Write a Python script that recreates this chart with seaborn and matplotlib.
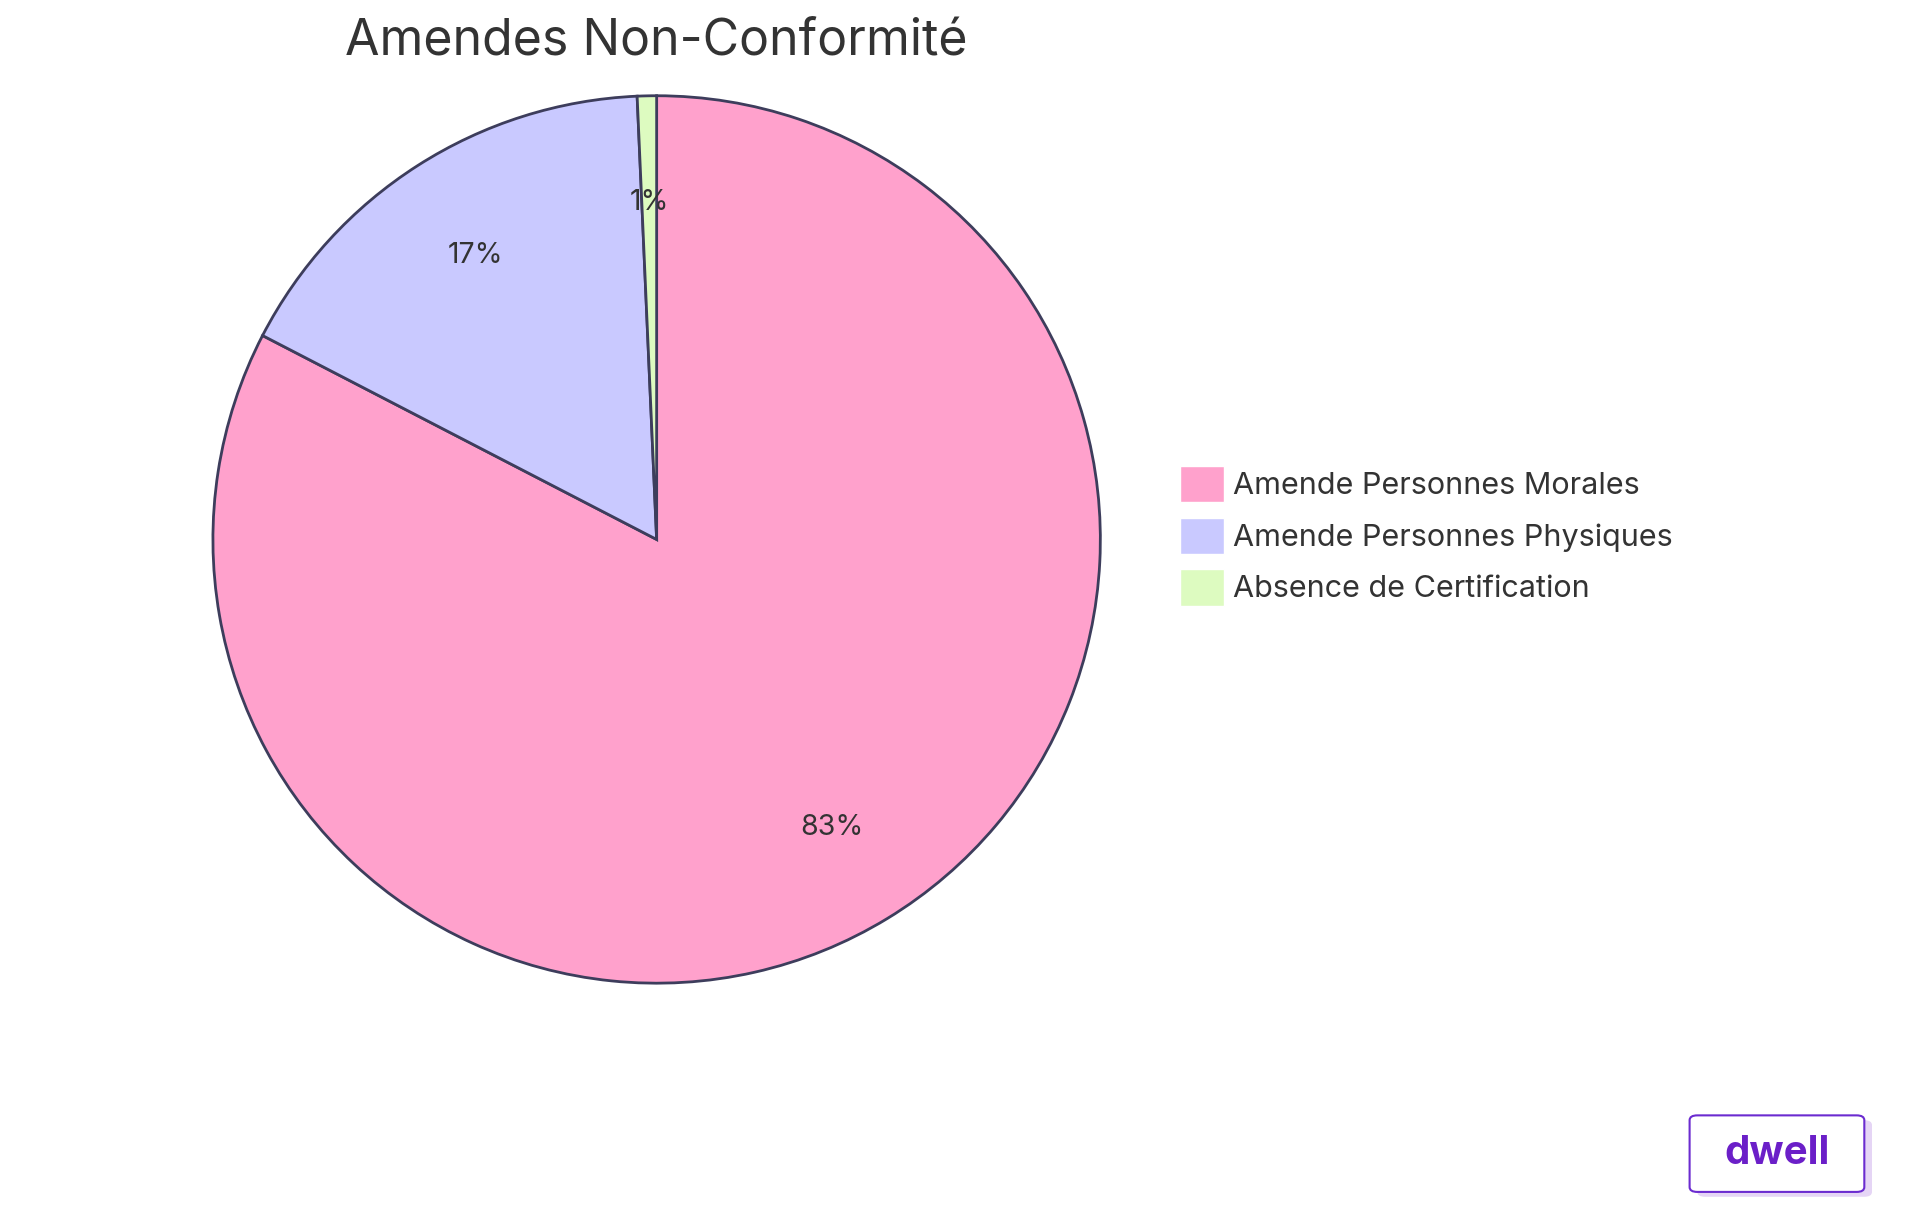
import matplotlib
matplotlib.use("Agg")
import matplotlib.pyplot as plt
import seaborn as sns
from matplotlib.patches import FancyBboxPatch, Patch

sns.set_theme(style="white")
plt.rcParams['font.family'] = ['Inter', 'DejaVu Sans']

categories = ["Amende Personnes Morales", "Amende Personnes Physiques", "Absence de Certification"]
values = [82.6, 16.7, 0.7]
colors = ["#FFA1CC", "#C9C9FF", "#DDFBC0"]
edge = "#3D3D5C"

fig = plt.figure(figsize=(19.2, 12.15), dpi=100)
ax = fig.add_axes([0.342 - 0.289, 0.556 - 0.4565, 0.578, 0.913])
wedges, texts, autotexts = ax.pie(values, colors=colors, startangle=90, counterclock=False,
       autopct='%1.0f%%', pctdistance=0.76,
       wedgeprops=dict(edgecolor=edge, linewidth=2),
       textprops=dict(fontsize=20.5, color="#333333"))
ax.set_aspect('equal')
fig.text(0.342, 0.966, "Amendes Non-Conformité", ha='center', va='center', fontsize=36, color="#333333")

handles = [Patch(facecolor=c, edgecolor='white') for c in colors]
fig.legend(handles, categories, loc='center left', bbox_to_anchor=(0.6, 0.559),
           frameon=False, fontsize=22, handlelength=1.45, handleheight=1.45,
           labelspacing=0.5, handletextpad=0.3, labelcolor="#333333")

box = FancyBboxPatch((0.884, 0.015), 0.091, 0.063, boxstyle="round,pad=0,rounding_size=0.004",
                     transform=fig.transFigure, facecolor="#E5D5F5", edgecolor="none")
fig.patches.append(box)
box2 = FancyBboxPatch((0.88, 0.019), 0.091, 0.063, boxstyle="round,pad=0,rounding_size=0.004",
                      transform=fig.transFigure, facecolor="white", edgecolor="#6B2BD0", linewidth=1.5)
fig.patches.append(box2)
fig.text(0.9255, 0.051, "dwell", ha='center', va='center', fontsize=29, fontweight='bold', color="#6B1FC8")

fig.savefig("out.png", dpi=100)
